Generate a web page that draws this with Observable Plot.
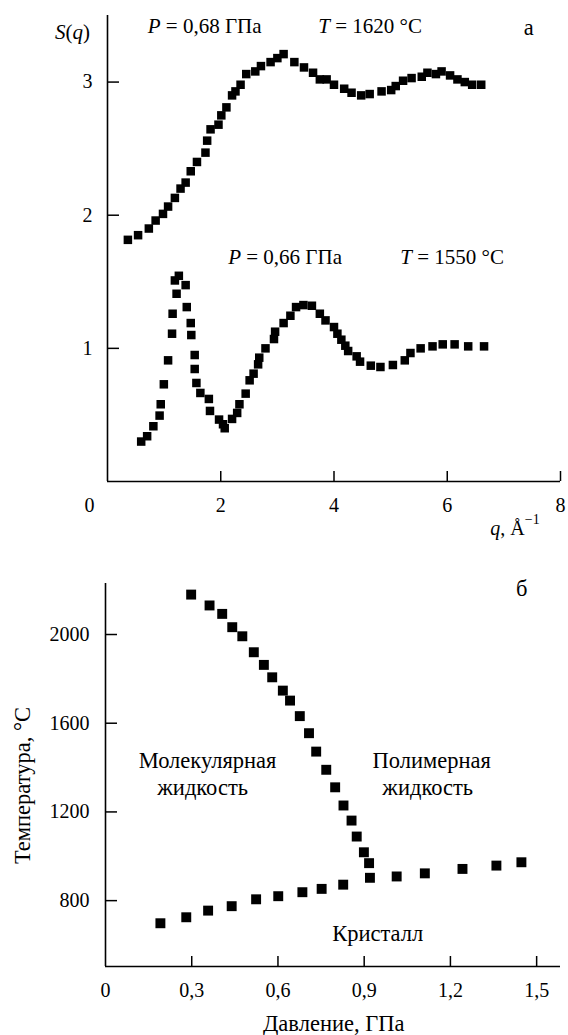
<!DOCTYPE html>
<html><head><meta charset="utf-8">
<script src="https://cdn.jsdelivr.net/npm/d3@7"></script>
<script src="https://cdn.jsdelivr.net/npm/@observablehq/plot@0.6"></script>
<style>
body{margin:0;background:#fff;}
#wrap{position:relative;width:568px;height:1035px;overflow:hidden;}
#a{position:absolute;left:0;top:0;}
#b{position:absolute;left:0;top:545px;}
#a svg text, #a svg tspan, #b svg text, #b svg tspan{font-family:"Liberation Serif","DejaVu Serif",serif !important;}
</style></head><body><div id="wrap"><div id="a"></div><div id="b"></div></div>
<script>
// ---------- Panel а: structure factor S(q) ----------
const q068 = [0.36,0.54,0.73,0.85,0.98,1.07,1.19,1.29,1.38,1.47,1.58,1.73,1.76,1.82,1.96,2.01,2.10,2.20,2.26,2.35,2.45,2.61,2.71,2.88,3.00,3.11,3.30,3.47,3.63,3.75,3.87,4.00,4.18,4.31,4.48,4.63,4.84,5.01,5.09,5.22,5.37,5.55,5.65,5.80,5.90,6.05,6.18,6.31,6.44,6.60];
const s068 = [1.815,1.85,1.90,1.96,2.01,2.065,2.13,2.20,2.245,2.33,2.40,2.47,2.56,2.645,2.68,2.75,2.81,2.90,2.93,2.98,3.06,3.08,3.12,3.15,3.18,3.21,3.15,3.11,3.07,3.02,3.02,2.98,2.95,2.92,2.90,2.91,2.93,2.94,2.97,3.01,3.03,3.04,3.07,3.06,3.08,3.05,3.02,3.00,2.98,2.98];
const q066 = [0.595,0.70,0.81,0.92,0.94,0.995,1.07,1.14,1.15,1.19,1.22,1.26,1.38,1.40,1.47,1.48,1.54,1.54,1.57,1.64,1.79,1.81,1.97,2.04,2.07,2.20,2.29,2.33,2.44,2.51,2.58,2.66,2.68,2.79,2.94,2.96,3.11,3.23,3.33,3.46,3.61,3.75,3.85,4.00,4.06,4.13,4.20,4.25,4.40,4.46,4.65,4.82,5.04,5.25,5.35,5.53,5.74,5.92,6.13,6.37,6.65];
const s066 = [0.30,0.34,0.415,0.495,0.58,0.73,0.91,1.11,1.26,1.51,1.41,1.545,1.475,1.31,1.19,1.10,0.95,0.845,0.74,0.665,0.62,0.53,0.465,0.43,0.40,0.47,0.515,0.58,0.66,0.76,0.81,0.88,0.93,1.00,1.07,1.125,1.19,1.245,1.31,1.325,1.32,1.26,1.21,1.16,1.11,1.065,1.02,0.98,0.94,0.90,0.87,0.86,0.875,0.91,0.965,1.00,1.015,1.03,1.03,1.015,1.015];
const xTicksA = [2,4,6,8];
const xLabelsA = ["2","4","6","8"];
const yTicksA = [1,2,3];
const yLabelsA = ["1","2","3"];

// ---------- Panel б: phase diagram ----------
const pLL = [0.298,0.362,0.406,0.441,0.476,0.516,0.551,0.580,0.617,0.642,0.676,0.708,0.733,0.768,0.799,0.828,0.856,0.874,0.899,0.917];
const tLL = [2180,2131,2093,2033,1992,1920,1863,1807,1747,1702,1632,1555,1472,1390,1311,1229,1161,1089,1018,969];
const pMelt = [0.191,0.281,0.357,0.439,0.524,0.601,0.685,0.752,0.827,0.920,1.013,1.111,1.242,1.360,1.447];
const tMelt = [698,725,755,775,806,820,838,853,872,903,909,923,943,958,973];
const xTicksB = [0.3,0.6,0.9,1.2,1.5];
const xLabelsB = ["0,3","0,6","0,9","1,2","1,5"];
const yTicksB = [800,1200,1600,2000];
const yLabelsB = ["800","1200","1600","2000"];

const FONT = "Liberation Serif";
const FS = 20;     // tick labels
const FA = 21;     // P/T annotations
const FT = 22.5;   // words and axis titles
const baseStyle = {fontFamily: FONT, fontSize: FS + "px", background: "white", color: "black", overflow: "visible"};

const dataA1 = q068.map((q, i) => ({q, s: s068[i]}));
const dataA2 = q066.map((q, i) => ({q, s: s066[i]}));
const dataB1 = pLL.map((p, i) => ({p, t: tLL[i]}));
const dataB2 = pMelt.map((p, i) => ({p, t: tMelt[i]}));

const WA = 568, HA = 540, mlA = 107, mrA = 8, mtA = 15, mbA = 59;
const fwA = WA - mlA - mrA, fhA = HA - mtA - mbA;

const chartA = Plot.plot({
  width: WA, height: HA, marginLeft: mlA, marginRight: mrA, marginTop: mtA, marginBottom: mbA,
  x: {domain: [0, 8], axis: null},
  y: {domain: [0, 3.5], axis: null},
  style: baseStyle,
  marks: [
    Plot.ruleX([0], {stroke: "black", strokeWidth: 1.6}),
    Plot.ruleY([0], {stroke: "black", strokeWidth: 1.6}),
    Plot.tickY(yTicksA, {y: d => d, stroke: "black", strokeWidth: 1.5, insetRight: fwA - 12}),
    Plot.tickX(xTicksA, {x: d => d, stroke: "black", strokeWidth: 1.5, insetTop: fhA - 10}),
    Plot.text(yTicksA, {x: 0, y: d => d, text: (d, i) => yLabelsA[i], textAnchor: "end", dx: -15, fontSize: FS, fontFamily: FONT}),
    Plot.text(xTicksA, {x: d => d, y: 0, text: (d, i) => xLabelsA[i], dy: 24, fontSize: FS, fontFamily: FONT}),
    Plot.text(["0"], {x: 0, y: 0, text: d => d, dx: -18, dy: 24, fontSize: FS, fontFamily: FONT}),
    Plot.text(["а"], {x: 7.44, y: 3.41, text: d => d, fontSize: FT, fontFamily: FONT}),
    Plot.dot(dataA1, {x: "q", y: "s", symbol: "square", r: 4.8, fill: "black", stroke: "none"}),
    Plot.dot(dataA2, {x: "q", y: "s", symbol: "square", r: 4.8, fill: "black", stroke: "none"})
  ]
});
document.getElementById("a").append(chartA);

function rich(chart, xv, yv, parts, anchor, size) {
  const x = chart.scale("x").apply(xv), y = chart.scale("y").apply(yv);
  const t = d3.select(chart).append("text")
    .attr("x", x).attr("y", y)
    .attr("text-anchor", anchor || "start")
    .attr("dominant-baseline", "central")
    .attr("font-size", size || FA)
    .attr("font-family", FONT)
    .attr("fill", "black");
  for (const p of parts) {
    const ts = t.append("tspan").text(p.t);
    if (p.i) ts.attr("font-style", "italic");
    if (p.sup) ts.attr("dy", -9).attr("font-size", 14);
  }
}
rich(chartA, -0.30, 3.37, [{t: "S", i: true}, {t: "("}, {t: "q", i: true}, {t: ")"}], "end");
rich(chartA, 0.72, 3.42, [{t: "P", i: true}, {t: " = 0,68 ГПа"}]);
rich(chartA, 3.73, 3.42, [{t: "T", i: true}, {t: " = 1620 °C"}]);
rich(chartA, 2.14, 1.68, [{t: "P", i: true}, {t: " = 0,66 ГПа"}]);
rich(chartA, 5.18, 1.68, [{t: "T", i: true}, {t: " = 1550 °C"}]);
rich(chartA, 6.77, -0.35, [{t: "q", i: true}, {t: ", Å"}, {t: "−1", sup: true}], "start", FS);

const WB = 568, HB = 490, mlB = 105, mrB = 8, mtB = 38, mbB = 69;
const fwB = WB - mlB - mrB, fhB = HB - mtB - mbB;

const chartB = Plot.plot({
  width: WB, height: HB, marginLeft: mlB, marginRight: mrB, marginTop: mtB, marginBottom: mbB,
  x: {domain: [0, 1.583], axis: null},
  y: {domain: [503, 2230], axis: null},
  style: baseStyle,
  marks: [
    Plot.ruleX([0], {stroke: "black", strokeWidth: 1.6}),
    Plot.ruleY([503], {stroke: "black", strokeWidth: 1.6}),
    Plot.tickY(yTicksB, {y: d => d, stroke: "black", strokeWidth: 1.5, insetRight: fwB - 12}),
    Plot.tickX(xTicksB, {x: d => d, stroke: "black", strokeWidth: 1.5, insetTop: fhB - 10}),
    Plot.text(yTicksB, {x: 0, y: d => d, text: (d, i) => yLabelsB[i], textAnchor: "end", dx: -16, fontSize: FS, fontFamily: FONT}),
    Plot.text(xTicksB, {x: d => d, y: 503, text: (d, i) => xLabelsB[i], dy: 24, fontSize: FS, fontFamily: FONT}),
    Plot.text(["0"], {x: 0, y: 503, text: d => d, dy: 24, fontSize: FS, fontFamily: FONT}),
    Plot.text(["б"], {x: 1.448, y: 2207, text: d => d, fontSize: FT, fontFamily: FONT}),
    Plot.text(["Молекулярная"], {x: 0.355, y: 1432, text: d => d, fontSize: FT, fontFamily: FONT}),
    Plot.text(["жидкость"], {x: 0.338, y: 1310, text: d => d, fontSize: FT, fontFamily: FONT}),
    Plot.text(["Полимерная"], {x: 1.135, y: 1432, text: d => d, fontSize: FT, fontFamily: FONT}),
    Plot.text(["жидкость"], {x: 1.121, y: 1310, text: d => d, fontSize: FT, fontFamily: FONT}),
    Plot.text(["Кристалл"], {x: 0.947, y: 651, text: d => d, fontSize: FT, fontFamily: FONT}),
    Plot.text(["Давление, ГПа"], {x: 0.794, y: 246, text: d => d, fontSize: FT, fontFamily: FONT}),
    Plot.text(["Температура, °C"], {x: -0.289, y: 1319, text: d => d, rotate: -90, fontSize: FT, fontFamily: FONT}),
    Plot.dot(dataB1, {x: "p", y: "t", symbol: "square", r: 5.6, fill: "black", stroke: "none"}),
    Plot.dot(dataB2, {x: "p", y: "t", symbol: "square", r: 5.6, fill: "black", stroke: "none"})
  ]
});
document.getElementById("b").append(chartB);
</script>
</body></html>
